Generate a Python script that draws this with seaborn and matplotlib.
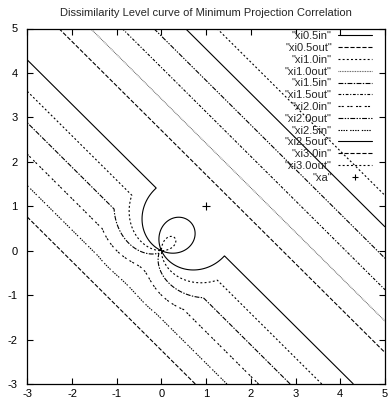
import numpy as np
import matplotlib
matplotlib.use("Agg")
import matplotlib.pyplot as plt
from matplotlib.lines import Line2D
import seaborn as sns

# ---- data ----
levels = [0.5, 1.0, 1.5, 2.0, 2.5, 3.0]          # dissimilarity levels xi
xa_x = [1.0]                                     # reference point "xa"
xa_y = [1.0]
labels_in = ['"xi0.5in"', '"xi1.0in"', '"xi1.5in"', '"xi2.0in"', '"xi2.5in"', '"xi3.0in"']
labels_out = ['"xi0.5out"', '"xi1.0out"', '"xi1.5out"', '"xi2.0out"', '"xi2.5out"', '"xi3.0out"']
label_xa = '"xa"'
x_ticks = [-3, -2, -1, 0, 1, 2, 3, 4, 5]
y_ticks = [-3, -2, -1, 0, 1, 2, 3, 4, 5]
title = "Dissimilarity Level curve of Minimum Projection Correlation"

# ---- style ----
sns.set_style("ticks")
plt.rcParams["font.family"] = ["Liberation Sans", "DejaVu Sans"]
plt.rcParams["lines.scale_dashes"] = False

# gnuplot-like line types 1..9, cycled
gp_styles = [
    ("solid", "black"),
    ((0, (3, 1.3)), "black"),
    ((0, (1.4, 1.6)), "black"),
    ((0, (0.6, 0.6)), "#555555"),
    ((0, (3.5, 1.0, 1.0, 1.0)), "black"),
    ((0, (2.0, 1.2, 0.8, 1.2)), "black"),
    ((0, (1.5, 0.8, 1.5, 2.5)), "black"),
    ((0, (3.5, 1.0, 1.0, 1.0, 1.0, 1.0)), "black"),
    ((0, (1.0, 0.8, 1.0, 0.8, 1.0, 0.8, 1.0, 2.0)), "black"),
]

fig = plt.figure(figsize=(3.88, 4.05), dpi=100)
ax = fig.add_axes([27.3 / 388, 1 - 384 / 405, (385 - 27.3) / 388, (384 - 28.5) / 405])

# ---- level field: min of the two projection distances ----
gx = np.linspace(-3, 5, 1700)
gy = np.linspace(-3, 5, 1700)
X, Y = np.meshgrid(gx, gy)
ax0, ay0 = xa_x[0], xa_y[0]
na = np.hypot(ax0, ay0)
dot = X * ax0 + Y * ay0
r = np.hypot(X, Y)
r = np.where(r == 0, 1e-12, r)
d1 = np.abs(dot / na - na)
d2 = np.abs(r - dot / r)
F = np.minimum(d1, d2)
inside = dot < na ** 2
F_in = np.ma.masked_where(~inside, F)
F_out = np.ma.masked_where(inside, F)

handles, labels = [], []
k = 0
for lv, lin, lout in zip(levels, labels_in, labels_out):
    for field, lab in ((F_in, lin), (F_out, lout)):
        ls, col = gp_styles[k % 9]
        ax.contour(X, Y, field, levels=[lv], colors=[col], linewidths=0.8,
                   linestyles=[ls])
        handles.append(Line2D([], [], color=col, lw=0.8, linestyle=ls))
        labels.append(lab)
        k += 1

sns.scatterplot(x=xa_x, y=xa_y, marker="+", color="black", s=30, linewidth=0.8,
                ax=ax, legend=False)
handles.append(Line2D([], [], color="black", marker="+", markersize=5,
                      markeredgewidth=0.8, linestyle="none"))
labels.append(label_xa)

ax.set_xlim(-3, 5)
ax.set_ylim(-3, 5)
ax.set_xticks(x_ticks)
ax.set_yticks(y_ticks)
ax.set_xticklabels([str(t) for t in x_ticks])
ax.set_yticklabels([str(t) for t in y_ticks])
ax.tick_params(direction="in", top=True, right=True, length=4, width=0.8,
               labelsize=8, colors="black")
ax.tick_params(axis="y", pad=7)
ax.tick_params(axis="x", pad=3.5)
for s in ax.spines.values():
    s.set_linewidth(0.9)
    s.set_color("black")
ax.set_xlabel("")
ax.set_ylabel("")
ax.set_title(title, fontsize=8, pad=9)

ax.legend(handles, labels, loc="upper right", bbox_to_anchor=(0.9636, 0.992),
          frameon=False, markerfirst=False, fontsize=8, handlelength=3.06,
          handletextpad=0.55, labelspacing=0.16, borderpad=0, borderaxespad=0)

fig.savefig("out.png", dpi=100)
